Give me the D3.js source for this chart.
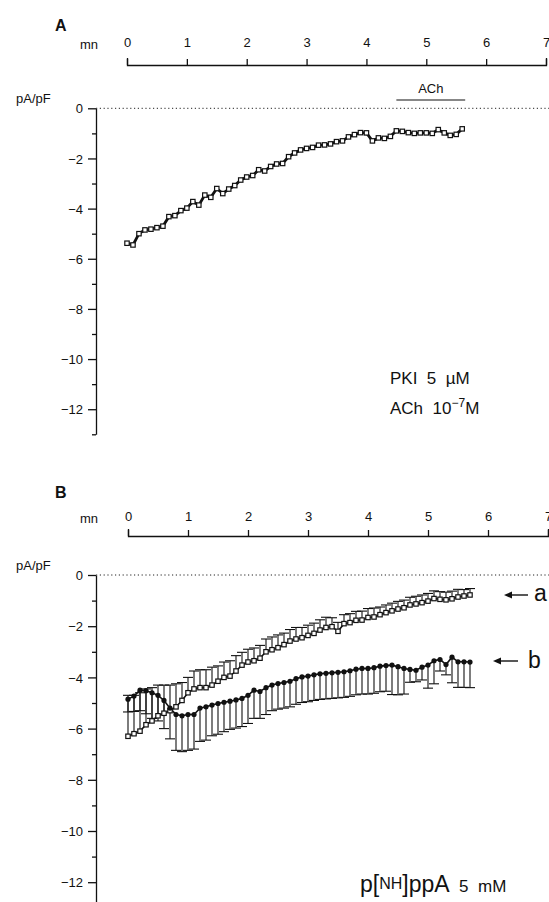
<!DOCTYPE html>
<html lang="en">
<head>
<meta charset="UTF-8">
<title>ACh current, PKI and p[NH]ppA</title>
<script src="https://d3js.org/d3.v7.min.js"></script>
<style>
  body { margin: 0; background: #fff; }
  svg text { font-family: "Liberation Sans", Arial, sans-serif; fill: #111; white-space: pre; }
  .axis .domain, .axis line { stroke: #111; stroke-width: 1.3; }
</style>
</head>
<body>
<svg id="fig" width="549" height="902"></svg>
<script>
// ---- data (pA/pF vs minutes) ----
const xTicks = [0, 1, 2, 3, 4, 5, 6, 7];
const yMajor = [0, -2, -4, -6, -8, -10, -12];
const yMinor = [-1, -3, -5, -7, -9, -11, -13];

// panel A : PKI 5 uM, ACh 1e-7 M
const timeA = [0.0,0.1,0.2,0.3,0.4,0.5,0.6,0.7,0.8,0.9,1.0,1.1,1.2,1.3,1.4,1.5,1.6,1.7,1.8,1.9,
  2.0,2.1,2.2,2.3,2.4,2.5,2.6,2.7,2.8,2.9,3.0,3.1,3.2,3.3,3.4,3.5,3.6,3.7,3.8,3.9,
  4.0,4.1,4.2,4.3,4.4,4.5,4.6,4.7,4.8,4.9,5.0,5.1,5.2,5.3,5.4,5.5,5.6];
const currentA = [-5.38,-5.45,-5.0,-4.85,-4.82,-4.76,-4.7,-4.32,-4.28,-4.08,-3.98,-3.72,-3.86,-3.46,-3.55,-3.2,-3.4,-3.22,-3.08,-2.86,
  -2.74,-2.68,-2.45,-2.5,-2.32,-2.22,-2.2,-1.93,-1.78,-1.66,-1.6,-1.56,-1.47,-1.46,-1.42,-1.33,-1.3,-1.14,-1.05,-0.97,
  -0.98,-1.3,-1.18,-1.2,-1.12,-0.9,-0.92,-0.97,-1.0,-0.98,-0.98,-1.0,-0.85,-0.98,-1.08,-1.04,-0.82];
const achStart = 4.5, achEnd = 5.65;

// panel B : p[NH]ppA 5 mM, mean with SEM
const timeB = [0.0,0.1,0.2,0.3,0.4,0.5,0.6,0.7,0.8,0.9,1.0,1.1,1.2,1.3,1.4,1.5,1.6,1.7,1.8,1.9,
  2.0,2.1,2.2,2.3,2.4,2.5,2.6,2.7,2.8,2.9,3.0,3.1,3.2,3.3,3.4,3.5,3.6,3.7,3.8,3.9,
  4.0,4.1,4.2,4.3,4.4,4.5,4.6,4.7,4.8,4.9,5.0,5.1,5.2,5.3,5.4,5.5,5.6,5.7];
const currentBa = [-6.3,-6.2,-6.1,-5.85,-5.7,-5.5,-5.4,-5.3,-5.15,-4.9,-4.6,-4.45,-4.4,-4.4,-4.3,-4.15,-4.0,-3.95,-3.75,-3.52,
  -3.4,-3.35,-3.25,-3.0,-2.92,-2.84,-2.72,-2.58,-2.5,-2.45,-2.36,-2.28,-2.15,-2.05,-2.02,-2.2,-1.9,-1.86,-1.77,-1.76,
  -1.66,-1.64,-1.55,-1.47,-1.4,-1.33,-1.28,-1.17,-1.13,-1.08,-1.02,-0.92,-0.95,-0.97,-0.93,-0.86,-0.82,-0.78];
const errBa = [1.6,1.5,1.5,1.4,1.3,1.2,1.1,1.0,0.9,0.7,0.6,0.7,0.7,0.7,0.7,0.6,0.6,0.6,0.6,0.5,
  0.5,0.5,0.5,0.5,0.5,0.5,0.45,0.45,0.45,0.4,0.4,0.4,0.4,0.4,0.35,0.35,0.35,0.35,0.35,0.35,
  0.35,0.35,0.3,0.3,0.3,0.3,0.3,0.3,0.3,0.3,0.3,0.3,0.3,0.3,0.3,0.3,0.25,0.25];
const currentBb = [-4.85,-4.73,-4.5,-4.52,-4.6,-4.7,-4.9,-5.2,-5.45,-5.5,-5.45,-5.45,-5.2,-5.15,-5.08,-5.02,-4.97,-4.93,-4.88,-4.82,
  -4.7,-4.5,-4.55,-4.4,-4.3,-4.24,-4.2,-4.15,-4.05,-3.98,-3.95,-3.9,-3.86,-3.84,-3.82,-3.8,-3.78,-3.74,-3.68,-3.65,
  -3.65,-3.62,-3.56,-3.54,-3.52,-3.58,-3.65,-3.69,-3.72,-3.6,-3.52,-3.35,-3.3,-3.5,-3.21,-3.39,-3.39,-3.4];
const errBb = [0.5,0.6,0.8,0.9,1.0,1.0,1.1,1.2,1.4,1.4,1.4,1.35,1.3,1.3,1.2,1.2,1.15,1.1,1.1,1.1,
  1.1,1.1,1.05,1.05,1.0,1.0,1.0,1.0,1.0,1.0,1.0,1.0,1.0,1.0,1.0,1.0,1.0,1.0,1.0,1.0,
  1.0,1.0,1.0,1.0,1.15,1.1,1.0,0.5,0.45,0.5,0.9,0.9,0.45,0.4,1.0,1.0,1.0,1.0];

const svg = d3.select("#fig");
const font = "Liberation Sans, Arial, sans-serif";

function fmtY(d) { return d === 0 ? "0" : "\u2212" + Math.abs(d); }

// axes, labels and zero line shared by both panels
function drawFrame(p) {
  const x = d3.scaleLinear().domain([0, 7]).range(p.xRange);
  const y = d3.scaleLinear().domain([0, -13]).range(p.yRange);

  let top = svg.append("g").attr("class", "axis")
      .attr("transform", `translate(0,${p.axisY})`)
      .call(d3.axisTop(x).tickValues(xTicks).tickSize(6).tickSizeOuter(7)
            .tickPadding(p.pad).tickFormat(d3.format("d")));
  top.attr("font-size", 13).attr("font-family", font);

  svg.append("text").attr("x", 80).attr("y", p.axisY - p.pad - 4)
     .attr("font-size", 13).text("mn");
  svg.append("text").attr("x", 55).attr("y", p.letterY)
     .attr("font-size", 16).attr("font-weight", "bold").text(p.letter);

  let left = svg.append("g").attr("class", "axis")
      .attr("transform", `translate(${p.yAxisX},0)`)
      .call(d3.axisLeft(y).tickValues(yMajor).tickSize(8).tickSizeOuter(0)
            .tickPadding(5).tickFormat(fmtY));
  left.attr("font-size", 13).attr("font-family", font);
  left.selectAll(".tick text").attr("dy", "0.36em");

  svg.append("g").attr("class", "axis")
      .attr("transform", `translate(${p.yAxisX},0)`)
      .call(d3.axisLeft(y).tickValues(yMinor).tickSize(4).tickFormat(""))
      .select(".domain").remove();

  svg.append("text").attr("x", 16).attr("y", y(0) - 5)
     .attr("font-size", 13).text("pA/pF");

  svg.append("line")
     .attr("x1", p.yAxisX).attr("x2", 549)
     .attr("y1", y(0)).attr("y2", y(0))
     .attr("stroke", "#222").attr("stroke-width", 1)
     .attr("stroke-dasharray", "1.2,2.6");

  return { x, y };
}

// ---------- panel A ----------
const A = drawFrame({ letter: "A", letterY: 31, xRange: [127, 546], axisY: 65,
                      pad: 12, yAxisX: 96, yRange: [108.3, 434.3] });

svg.append("line")
   .attr("x1", A.x(achStart)).attr("x2", A.x(achEnd))
   .attr("y1", 100).attr("y2", 100)
   .attr("stroke", "#111").attr("stroke-width", 1.2);
svg.append("text").attr("x", (A.x(achStart) + A.x(achEnd)) / 2).attr("y", 93)
   .attr("text-anchor", "middle").attr("font-size", 13).text("ACh");

const dataA = timeA.map((t, i) => ({ t, v: currentA[i] }));
svg.append("path").datum(dataA)
   .attr("fill", "none").attr("stroke", "#111").attr("stroke-width", 2.8)
   .attr("d", d3.line().x(d => A.x(d.t)).y(d => A.y(d.v)));
svg.append("g").selectAll("rect").data(dataA).join("rect")
   .attr("x", d => A.x(d.t) - 2.2).attr("y", d => A.y(d.v) - 2.2)
   .attr("width", 4.4).attr("height", 4.4)
   .attr("fill", "#fff").attr("stroke", "#111").attr("stroke-width", 1.2);

let noteA = svg.append("text").attr("x", 390).attr("y", 384).attr("font-size", 17);
noteA.text("PKI  5  \u00b5M");
let noteA2 = svg.append("text").attr("x", 390).attr("y", 414).attr("font-size", 17);
noteA2.append("tspan").text("ACh  10");
noteA2.append("tspan").attr("font-size", 12).attr("dy", -7).text("\u22127");
noteA2.append("tspan").attr("dy", 7).text("M");

// ---------- panel B ----------
const B = drawFrame({ letter: "B", letterY: 498, xRange: [128, 548], axisY: 536,
                      pad: 9, yAxisX: 96, yRange: [575, 907.8] });

const dataBa = timeB.map((t, i) => ({ t, v: currentBa[i], e: errBa[i] }));
const dataBb = timeB.map((t, i) => ({ t, v: currentBb[i], e: errBb[i] }));
const capW = 5;

// error bars: series a upward, series b downward
let eb = svg.append("g").attr("stroke", "#111").attr("stroke-width", 1.1);
eb.selectAll("line.ea").data(dataBa).join("line").attr("class", "ea")
  .attr("x1", d => B.x(d.t)).attr("x2", d => B.x(d.t))
  .attr("y1", d => B.y(d.v)).attr("y2", d => B.y(d.v + d.e));
eb.selectAll("line.ca").data(dataBa).join("line").attr("class", "ca")
  .attr("x1", d => B.x(d.t) - capW).attr("x2", d => B.x(d.t) + capW)
  .attr("y1", d => B.y(d.v + d.e)).attr("y2", d => B.y(d.v + d.e));
eb.selectAll("line.eb").data(dataBb).join("line").attr("class", "eb")
  .attr("x1", d => B.x(d.t)).attr("x2", d => B.x(d.t))
  .attr("y1", d => B.y(d.v)).attr("y2", d => B.y(d.v - d.e));
eb.selectAll("line.cb").data(dataBb).join("line").attr("class", "cb")
  .attr("x1", d => B.x(d.t) - capW).attr("x2", d => B.x(d.t) + capW)
  .attr("y1", d => B.y(d.v - d.e)).attr("y2", d => B.y(d.v - d.e));

const lineB = d3.line().x(d => B.x(d.t)).y(d => B.y(d.v));
svg.append("path").datum(dataBa).attr("fill", "none")
   .attr("stroke", "#111").attr("stroke-width", 1.6).attr("d", lineB);
svg.append("path").datum(dataBb).attr("fill", "none")
   .attr("stroke", "#111").attr("stroke-width", 1.6).attr("d", lineB);

svg.append("g").selectAll("rect").data(dataBa).join("rect")
   .attr("x", d => B.x(d.t) - 2.2).attr("y", d => B.y(d.v) - 2.2)
   .attr("width", 4.4).attr("height", 4.4)
   .attr("fill", "#fff").attr("stroke", "#111").attr("stroke-width", 1.2);
svg.append("g").selectAll("circle").data(dataBb).join("circle")
   .attr("cx", d => B.x(d.t)).attr("cy", d => B.y(d.v)).attr("r", 2.6)
   .attr("fill", "#111");

// arrows a and b
function arrow(x1, x2, yy) {
  svg.append("line").attr("x1", x1).attr("x2", x2 + 5).attr("y1", yy).attr("y2", yy)
     .attr("stroke", "#111").attr("stroke-width", 1.4);
  svg.append("path").attr("d", `M${x2},${yy} l8,-3.5 l0,7 z`).attr("fill", "#111");
}
arrow(528, 504, 595);
svg.append("text").attr("x", 534).attr("y", 601).attr("font-size", 23).text("a");
arrow(518, 493, 661);
svg.append("text").attr("x", 528).attr("y", 668).attr("font-size", 23).text("b");

let noteB = svg.append("text").attr("x", 360).attr("y", 892).attr("font-size", 23);
noteB.append("tspan").text("p[");
noteB.append("tspan").attr("font-size", 16).attr("dy", -3).text("NH");
noteB.append("tspan").attr("dy", 3).text("]ppA");
noteB.append("tspan").attr("font-size", 17).text("  5  mM");
</script>
</body>
</html>
